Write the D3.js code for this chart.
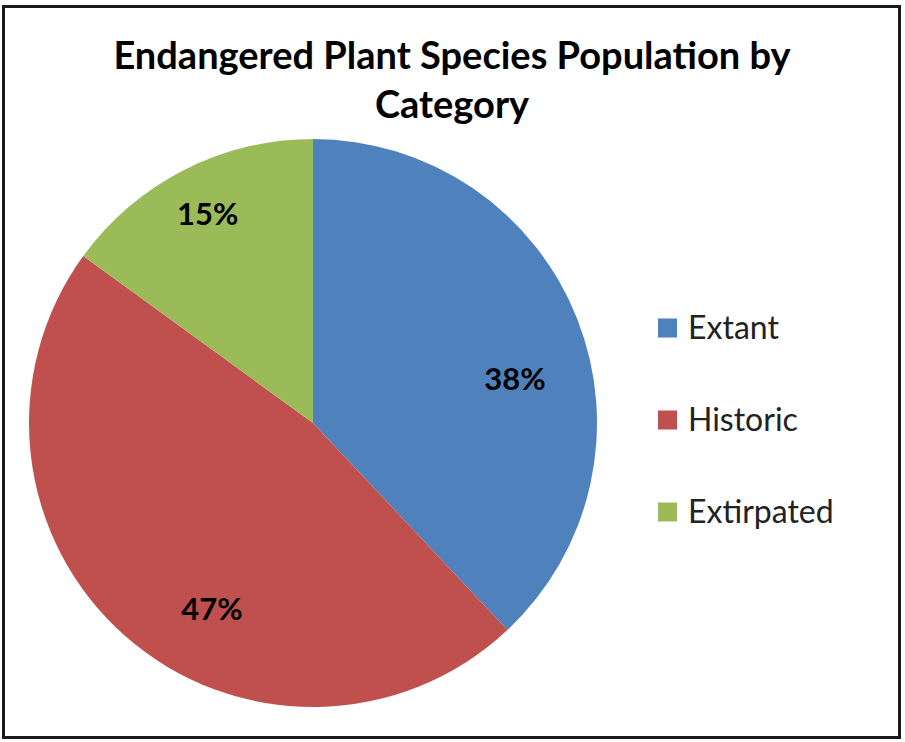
<!DOCTYPE html>
<html>
<head>
<meta charset="utf-8">
<script src="https://cdn.jsdelivr.net/npm/d3@7"></script>
<style>
  html, body { margin: 0; padding: 0; background: #fff; }
  svg { display: block; }
</style>
</head>
<body>
<svg id="chart" width="905" height="742"></svg>
<script>
// ---- data ----
const titleLines = ["Endangered Plant Species Population by", "Category"];
const categories = ["Extant", "Historic", "Extirpated"];
const values = [38, 47, 15];
const labels = ["38%", "47%", "15%"];
const colors = ["#4F81BD", "#C0504D", "#9BBB59"];

// ---- layout ----
const W = 905, H = 742;
const cx = 313, cy = 423, R = 284;
const svg = d3.select("#chart");

svg.append("rect").attr("width", W).attr("height", H).attr("fill", "#fff");
svg.append("rect")
  .attr("x", 3.5).attr("y", 6.5).attr("width", 896).attr("height", 731)
  .attr("fill", "none").attr("stroke", "#1a1a1a").attr("stroke-width", 3);

// title
const title = svg.append("text")
  .attr("text-anchor", "middle")
  .attr("font-family", "Lato, 'Open Sans', sans-serif")
  .attr("font-weight", "bold")
  .attr("font-size", 38)
  .attr("fill", "#000");
title.selectAll("tspan").data(titleLines).join("tspan")
  .attr("x", 452).attr("y", (d, i) => 69 + i * 49)
  .text(d => d);

// pie
const pie = d3.pie().sort(null).value(d => d)(values);
const arc = d3.arc().innerRadius(0).outerRadius(R);
const g = svg.append("g").attr("transform", `translate(${cx},${cy})`);
g.selectAll("path").data(pie).join("path")
  .attr("d", arc)
  .attr("fill", (d, i) => colors[i]);

// data labels (angle/radius nudges mimic Excel's best-fit placement)
const labelAngleShift = [9, -12.8, 0.4];
const labelRadius = [207, 211, 235];
g.selectAll("text.lbl").data(pie).join("text")
  .attr("class", "lbl")
  .attr("text-anchor", "middle")
  .attr("dominant-baseline", "central")
  .attr("font-family", "Lato, 'Open Sans', sans-serif")
  .attr("font-weight", "bold")
  .attr("font-size", 31)
  .attr("fill", "#000")
  .attr("transform", (d, i) => {
    const a = (d.startAngle + d.endAngle) / 2 + labelAngleShift[i] * Math.PI / 180;
    return `translate(${labelRadius[i] * Math.sin(a)},${-labelRadius[i] * Math.cos(a)})`;
  })
  .text((d, i) => labels[i]);

// legend
const legend = svg.append("g").attr("transform", "translate(658,0)");
const rowY = d3.scalePoint().domain(categories).range([328, 512]);
const item = legend.selectAll("g").data(categories).join("g")
  .attr("transform", d => `translate(0,${rowY(d)})`);
item.append("rect")
  .attr("x", 0).attr("y", -9.5).attr("width", 19).attr("height", 19)
  .attr("fill", (d, i) => colors[i]);
item.append("text")
  .attr("x", 30).attr("y", 11)
  .attr("font-family", "Lato, 'Open Sans', sans-serif")
  .attr("font-size", 32)
  .attr("fill", "#222")
  .text(d => d);
</script>
</body>
</html>
